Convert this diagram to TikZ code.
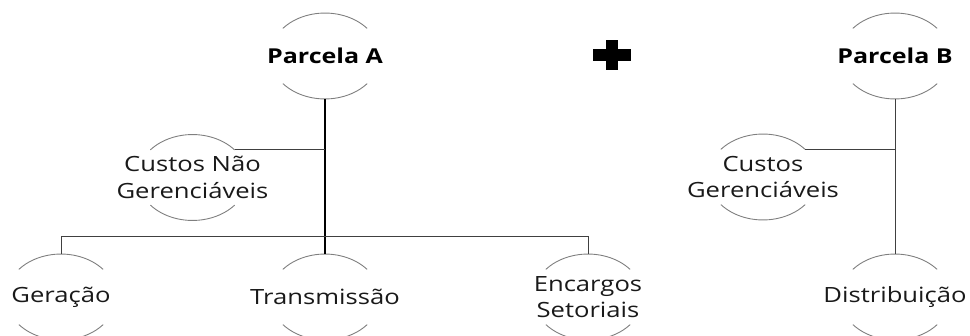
\documentclass[tikz,border=0pt]{standalone}
\usepackage{fontspec}
\setmainfont[FakeStretch=1.22]{Open Sans}
\usetikzlibrary{calc}
\definecolor{arcgray}{HTML}{7F7F7F}
\definecolor{linegray}{HTML}{404040}
\tikzset{
  lbl/.style={inner sep=0pt, minimum width=110pt, minimum height=86pt, align=center,
    font=\fontsize{21}{26.5}\selectfont, text=black!90},
  titlelbl/.style={lbl, font=\fontsize{20.5}{26}\selectfont\bfseries, text=black},
  arcline/.style={draw=arcgray, line width=0.9pt},
  conn/.style={draw=linegray, line width=1pt},
  trunk/.style={draw=black, line width=1.3pt}
}
\newcommand\ellarcs[1]{%
  \draw[arcline] ($(#1.center)+(42.1pt,27.6pt)$) arc[start angle=40,end angle=140,x radius=55pt,y radius=43pt];
  \draw[arcline] ($(#1.center)+(-42.1pt,-27.6pt)$) arc[start angle=220,end angle=320,x radius=55pt,y radius=43pt];
}
\begin{document}
\begin{tikzpicture}[x=1pt,y=1pt]
\useasboundingbox (0,0) rectangle (970,335);
\node[titlelbl] (pa) at (325,279) {Parcela A};
\node[titlelbl] (pb) at (895,279) {Parcela B};
\node[lbl] (cng) at (192.5,157.5) {Custos Não\\Gerenciáveis};
\node[lbl] (cg) at (763,158) {Custos\\Gerenciáveis};
\node[lbl] (ge) at (61,38) {Geração};
\node[lbl] (tr) at (325,38) {Transmissão};
\node[lbl] (es) at (588,38) {Encargos\\Setoriais};
\node[lbl] (di) at (895,38) {Distribuição};
\foreach \n in {pa,pb,cng,cg,ge,tr,es,di} {\ellarcs{\n}}
% plus sign
\node[inner sep=0pt, minimum width=38pt, minimum height=30pt] (plus) at (612,280) {};
\fill[black] ($(plus.center)+(-19,-6)$) rectangle ($(plus.center)+(19,6)$);
\fill[black] ($(plus.center)+(-6,-15)$) rectangle ($(plus.center)+(6,15)$);
% connectors
\coordinate (cngend) at ($(cng.center)+(42.1pt,27.6pt)$);
\coordinate (cgend) at ($(cg.center)+(42.1pt,27.6pt)$);
\draw[trunk] (pa.south) -- (tr.north);
\draw[conn] (cngend) -- (cngend -| pa.south);
\draw[conn] (ge.north) -- ++(0,17) -| (es.north);
\draw[conn] (pb.south) -- (di.north);
\draw[conn] (cgend) -- (cgend -| pb.south);
\end{tikzpicture}
\end{document}
